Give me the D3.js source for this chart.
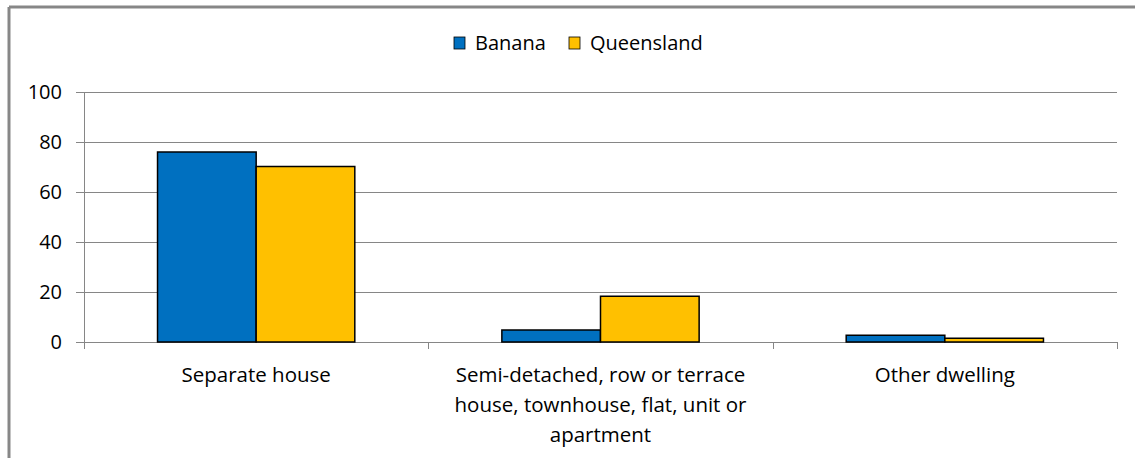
<!DOCTYPE html>
<html>
<head>
<meta charset="utf-8">
<script src="https://cdn.jsdelivr.net/npm/d3@7"></script>
<style>
  body { margin: 0; background: #fff; }
  svg text { font-family: "Open Sans", "Liberation Sans", sans-serif; fill: #000; }
</style>
</head>
<body>
<svg id="chart"></svg>
<script>
var categories = ["Separate house", "Semi-detached, row or terrace house, townhouse, flat, unit or apartment", "Other dwelling"]
var categoryLines = [["Separate house"], ["Semi-detached, row or terrace", "house, townhouse, flat, unit or", "apartment"], ["Other dwelling"]]
var seriesNames = ["Banana", "Queensland"]
var banana = [76.0, 4.8, 2.7]
var queensland = [70.2, 18.3, 1.5]
var yTicks = [0, 20, 40, 60, 80, 100]

var color = {"Banana": "#0070C0", "Queensland": "#FFC000"}
var width = 1135, height = 458

var svg = d3.select("#chart").attr("width", width).attr("height", height)

// outer frame (only top and left edges fall inside the picture)
svg.append("line").attr("x1", 9).attr("x2", width).attr("y1", 7).attr("y2", 7)
  .attr("stroke", "#878787").attr("stroke-width", 3)
svg.append("line").attr("x1", 9).attr("x2", 9).attr("y1", 7).attr("y2", height)
  .attr("stroke", "#878787").attr("stroke-width", 3)

var plotLeft = 84, plotRight = 1117, plotTop = 92, plotBottom = 342

var x0 = d3.scaleBand().domain(categories).range([plotLeft, plotRight]).paddingInner(0).paddingOuter(0)
var x1 = d3.scaleBand().domain(seriesNames).range([0, x0.bandwidth()]).paddingInner(0).paddingOuter(0.7455)
var y = d3.scaleLinear().domain([0, 100]).range([plotBottom, plotTop])

// gridlines
svg.append("g").selectAll("line").data(yTicks).join("line")
  .attr("x1", plotLeft - 8).attr("x2", plotRight)
  .attr("y1", d => Math.round(y(d)) + 0.5).attr("y2", d => Math.round(y(d)) + 0.5)
  .attr("stroke", "#868686").attr("stroke-width", 1)

// y axis line
svg.append("line").attr("x1", plotLeft + 0.5).attr("x2", plotLeft + 0.5).attr("y1", plotTop).attr("y2", plotBottom)
  .attr("stroke", "#868686")

// x tick marks at category boundaries
var bounds = categories.map(c => x0(c)).concat([plotRight])
svg.append("g").selectAll("line").data(bounds).join("line")
  .attr("x1", d => Math.round(d) + 0.5).attr("x2", d => Math.round(d) + 0.5)
  .attr("y1", plotBottom).attr("y2", plotBottom + 7)
  .attr("stroke", "#868686")

// y labels
svg.append("g").selectAll("text").data(yTicks).join("text")
  .attr("x", 62).attr("y", d => y(d) + 7)
  .attr("text-anchor", "end").attr("font-size", 20)
  .text(d => d)

// bars
var rows = categories.map((c, i) => ({cat: c, vals: [
  {name: "Banana", value: banana[i]}, {name: "Queensland", value: queensland[i]}]}))

var groups = svg.append("g").selectAll("g").data(rows).join("g")
  .attr("transform", d => "translate(" + x0(d.cat) + ",0)")

groups.selectAll("rect").data(d => d.vals).join("rect")
  .attr("x", d => x1(d.name))
  .attr("y", d => y(d.value))
  .attr("width", x1.bandwidth())
  .attr("height", d => plotBottom - y(d.value))
  .attr("fill", d => color[d.name])
  .attr("stroke", "#000").attr("stroke-width", 1.5)

// category labels
categoryLines.forEach(function (lines, i) {
  var cx = x0(categories[i]) + x0.bandwidth() / 2
  lines.forEach(function (t, j) {
    svg.append("text").attr("x", cx).attr("y", 382 + j * 30)
      .attr("text-anchor", "middle").attr("font-size", 20.5).text(t)
  })
})

// legend
var legX = [454, 569]
seriesNames.forEach(function (s, i) {
  svg.append("rect").attr("x", legX[i]).attr("y", 37).attr("width", 11).attr("height", 12)
    .attr("fill", color[s]).attr("stroke", "#000").attr("stroke-width", 0.8)
  svg.append("text").attr("x", legX[i] + 21).attr("y", 50).attr("font-size", 20).text(s)
})
</script>
</body>
</html>
